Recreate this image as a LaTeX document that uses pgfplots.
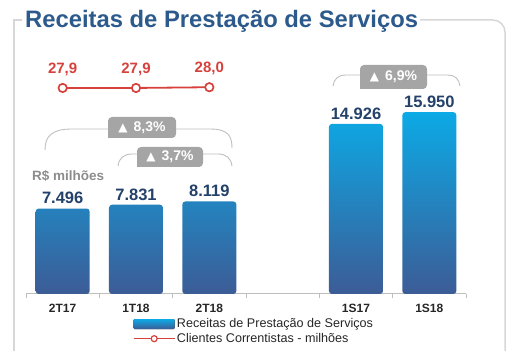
\documentclass[border=0pt]{standalone}
\usepackage{fontspec}
\setmainfont{Liberation Sans}
\newfontfamily\dejavu{DejaVu Sans}
\usepackage{pgfplots}
\usepackage{pgfplotstable}
\pgfplotsset{compat=1.18}
\definecolor{titleblue}{RGB}{45,90,140}
\definecolor{bartop}{RGB}{12,170,230}
\definecolor{barbot}{RGB}{60,92,150}
\definecolor{lblblue}{RGB}{35,65,105}
\definecolor{linered}{RGB}{215,65,60}
\definecolor{badgegray}{RGB}{165,165,165}
\definecolor{framegray}{RGB}{215,215,215}
\definecolor{axisgray}{RGB}{190,190,190}
\definecolor{labgray}{RGB}{140,140,140}

\pgfplotstableread{
x y lab
0 7496 7.496
1 7831 7.831
2 8119 8.119
4 14926 14.926
5 15950 15.950
}\receitas
\pgfplotstableread{
x y lab
0 27.9 27,9
1 27.9 27,9
2 28.0 28,0
}\clientes

\newcommand{\badge}[5]{%
  \fill[badgegray] (#1,#4) [rounded corners=4pt] -- (#1,#2) -- (#3,#2) -- (#3,#4) [sharp corners] -- cycle;
  \node[text=white, inner sep=0pt] at ({(#1+#3)/2},{(#2+#4)/2}) {{\dejavu\fontsize{12}{14}\selectfont ▲}\hspace{6pt}{\bfseries\fontsize{14}{16}\selectfont #5}};
}

\begin{document}
\begin{tikzpicture}
\path (0pt,0pt) rectangle (523pt,351pt);
\begin{pgfinterruptboundingbox}
\begin{axis}[at={(26pt,57pt)}, anchor=south west, scale only axis,
  width=440pt, height=264pt,
  xmin=-0.5, xmax=5.5, ymin=0, ymax=23158,
  axis x line=bottom, axis y line=none,
  axis line style={axisgray, line width=1pt, -},
  xtick={0,1,2,4,5}, xticklabels={2T17,1T18,2T18,1S17,1S18},
  major tick length=0pt,
  minor xtick={-0.5,0.5,...,5.5}, minor tick length=4pt,
  tick style={axisgray, line width=0.8pt}, tick align=outside,
  xticklabel style={font=\bfseries\fontsize{12}{14}\selectfont, text=black!85, yshift=-7pt},
  clip=false,
  legend style={at={(0.243,-0.088)}, anchor=north west, draw=none, fill=none,
    inner sep=0pt, outer sep=0pt, row sep=1pt,
    font=\fontsize{12.6}{14}\selectfont, text=black!85,
    nodes={inner sep=1.5pt}},
  legend cell align=left,
]
\addplot[ybar, bar width=54pt, draw=none, top color=bartop, bottom color=barbot,
  rounded corners=3pt,
  nodes near coords, point meta=explicit symbolic,
  nodes near coords style={font=\bfseries\fontsize{16.5}{18}\selectfont, text=lblblue, anchor=south, yshift=1pt},
  legend image code/.code={\fill[top color=bartop,bottom color=barbot,rounded corners=1pt] (0pt,-5pt) rectangle (41pt,5pt);}
] table[x=x,y=y,meta=lab]{\receitas};
\addlegendentry{Receitas de Prestação de Serviços}
\addlegendimage{legend image code/.code={\draw[linered,line width=1.5pt](0pt,0pt)--(41pt,0pt); \draw[linered,fill=white,line width=1.2pt](20.5pt,0pt) circle (3pt);}}
\addlegendentry{Clientes Correntistas - milhões}
\end{axis}

\begin{axis}[at={(26pt,57pt)}, anchor=south west, scale only axis,
  width=440pt, height=264pt,
  xmin=-0.5, xmax=5.5, ymin=0, ymax=35.75, hide axis, clip=false]
\addplot[linered, line width=1.8pt, mark=*, mark options={fill=white, draw=linered, line width=1.7pt}, mark size=4.2pt,
  nodes near coords, point meta=explicit symbolic,
  nodes near coords style={font=\bfseries\fontsize{15}{17}\selectfont, text=linered, anchor=south, yshift=8pt}
] table[x=x,y=y,meta=lab]{\clientes};
\end{axis}

\begin{scope}[x=1pt, y=-1pt, yshift=351pt]
\draw[framegray, line width=1.5pt] (22,20) -- (14,20) -- (14,352);
\draw[framegray, line width=1.5pt, rounded corners=12pt] (420,20) -- (505,20) -- (505,352);
\node[anchor=base west, inner sep=0pt, text=titleblue, font=\bfseries\fontsize{23.8}{27}\selectfont] at (25,28) {Receitas de Prestação de Serviços};
\node[anchor=west, inner sep=0pt, text=labgray, font=\bfseries\fontsize{13.5}{16}\selectfont] at (32,176) {R\$ milhões};
\draw[black!25, line width=0.9pt] (45,150) .. controls (45,136) and (52,129) .. (72,129) -- (110,129);
\draw[black!25, line width=0.9pt] (174,129) -- (210,129) .. controls (228,129) and (232,136) .. (232,148);
\draw[black!25, line width=0.9pt] (118,166) .. controls (119,158) and (124,154) .. (132,154) -- (139,154);
\draw[black!25, line width=0.9pt] (201,154) -- (218,154) .. controls (226,154) and (231,158) .. (232,166);
\draw[black!25, line width=0.9pt] (333,86) .. controls (334,79) and (338,75) .. (346,75) -- (362,75);
\draw[black!25, line width=0.9pt] (425,75) -- (448,75) .. controls (455,75) and (459,79) .. (460,86);
\badge{108}{117}{176}{138}{8,3\%}
\badge{137}{147}{203}{167}{3,7\%}
\badge{360}{65}{427}{89}{6,9\%}
\end{scope}
\end{pgfinterruptboundingbox}
\end{tikzpicture}
\end{document}
